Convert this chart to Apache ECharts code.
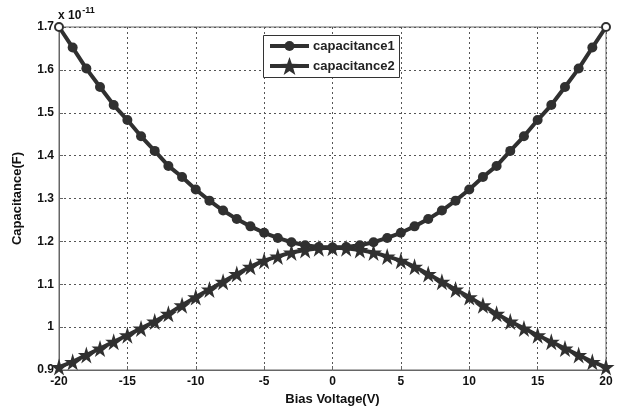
<!DOCTYPE html>
<html>
<head>
<meta charset="utf-8">
<script src="https://cdn.jsdelivr.net/npm/echarts@6/dist/echarts.min.js"></script>
<style>
html,body{margin:0;padding:0;background:#fff;}
#chart{width:619px;height:412px;}
</style>
</head>
<body>
<div id="chart"></div>
<script>
var voltages = [-20,-19,-18,-17,-16,-15,-14,-13,-12,-11,-10,-9,-8,-7,-6,-5,-4,-3,-2,-1,0,1,2,3,4,5,6,7,8,9,10,11,12,13,14,15,16,17,18,19,20];
var capacitance1 = [1.700,1.652,1.603,1.560,1.518,1.483,1.445,1.411,1.376,1.350,1.321,1.295,1.272,1.252,1.235,1.220,1.208,1.198,1.191,1.187,1.186,1.187,1.191,1.198,1.208,1.220,1.235,1.252,1.272,1.295,1.321,1.350,1.376,1.411,1.445,1.483,1.518,1.560,1.603,1.652,1.700];
var capacitance2 = [0.907,0.919,0.935,0.950,0.966,0.981,0.997,1.013,1.031,1.051,1.070,1.088,1.106,1.124,1.141,1.155,1.165,1.174,1.180,1.184,1.185,1.184,1.180,1.174,1.165,1.155,1.141,1.124,1.106,1.088,1.070,1.051,1.031,1.013,0.997,0.981,0.966,0.950,0.935,0.919,0.907];
var seriesNames = ['capacitance1','capacitance2'];
var xTicks = [-20,-15,-10,-5,0,5,10,15,20];
var yTicks = [0.9,1,1.1,1.2,1.3,1.4,1.5,1.6,1.7];

var lineColor = '#303030';
var starPath = 'path://M50,0 L61,35 L98,35 L68,57 L79,91 L50,70 L21,91 L32,57 L2,35 L39,35 Z';

function starPoints(cx, cy, R, r) {
  var pts = [];
  for (var k = 0; k < 10; k++) {
    var a = -Math.PI/2 + k*Math.PI/5;
    var rad = (k % 2 === 0) ? R : r;
    pts.push([cx + rad*Math.cos(a), cy + rad*Math.sin(a)]);
  }
  return pts;
}

var d1 = voltages.map(function(v,i){
  var item = {value:[v, capacitance1[i]]};
  if (i === 0 || i === voltages.length-1) {
    item.symbolSize = 8;
    item.itemStyle = {color:'#fff', borderColor:lineColor, borderWidth:2};
  }
  return item;
});
var d2 = voltages.map(function(v,i){ return [v, capacitance2[i]]; });

var chart = echarts.init(document.getElementById('chart'));
var font = 'Liberation Sans, Arial, sans-serif';

var lgX = 263, lgY = 35, lgW = 136, lgH = 42;
var row1 = 46, row2 = 66;
var legendGraphics = [
  {type:'rect', shape:{x:lgX+0.5, y:lgY+0.5, width:lgW, height:lgH}, style:{fill:'#fff', stroke:'#333', lineWidth:1}, z:100},
  {type:'line', shape:{x1:270, y1:row1, x2:309, y2:row1}, style:{stroke:lineColor, lineWidth:4}, z:101},
  {type:'circle', shape:{cx:289.5, cy:row1, r:5}, style:{fill:lineColor}, z:102},
  {type:'text', x:313, y:row1, style:{text:seriesNames[0], font:'bold 13px ' + font, fill:'#222', textVerticalAlign:'middle', verticalAlign:'middle'}, z:102},
  {type:'line', shape:{x1:270, y1:row2, x2:309, y2:row2}, style:{stroke:lineColor, lineWidth:4}, z:101},
  {type:'polygon', shape:{points:starPoints(289.5, row2+1, 10, 4)}, style:{fill:lineColor}, z:102},
  {type:'text', x:313, y:row2, style:{text:seriesNames[1], font:'bold 13px ' + font, fill:'#222', textVerticalAlign:'middle', verticalAlign:'middle'}, z:102}
];

chart.setOption({
  backgroundColor:'#fff',
  animation:false,
  textStyle:{fontFamily:font},
  grid:{left:59, right:13, top:27, bottom:42, show:true, borderColor:'#666', borderWidth:1, backgroundColor:'transparent'},
  xAxis:{
    type:'value', min:-20, max:20, interval:5,
    name:'Bias Voltage(V)', nameLocation:'middle', nameGap:20,
    nameTextStyle:{fontFamily:font, fontWeight:'bold', fontSize:13, color:'#111'},
    axisLine:{show:true, onZero:false, lineStyle:{color:'#666'}},
    axisTick:{show:true, inside:true, length:4, lineStyle:{color:'#666'}},
    axisLabel:{fontFamily:font, fontWeight:'bold', fontSize:12, color:'#111', margin:6,
      formatter:function(v){ return xTicks.indexOf(v) >= 0 ? String(v) : ''; }},
    splitLine:{show:true, lineStyle:{color:'#555', type:[2,3], width:1}}
  },
  yAxis:{
    type:'value', min:0.9, max:1.7, interval:0.1,
    name:'Capacitance(F)', nameLocation:'middle', nameGap:35, nameRotate:90,
    nameTextStyle:{fontFamily:font, fontWeight:'bold', fontSize:13, color:'#111'},
    axisLine:{show:true, onZero:false, lineStyle:{color:'#666'}},
    axisTick:{show:true, inside:true, length:4, lineStyle:{color:'#666'}},
    axisLabel:{fontFamily:font, fontWeight:'bold', fontSize:12, color:'#111', margin:5,
      formatter:function(v){ var r = Math.round(v*10)/10; return String(r); }},
    splitLine:{show:true, lineStyle:{color:'#555', type:[2,3], width:1}}
  },
  graphic:[{
    type:'text', left:58, top:6,
    style:{
      text:'{a|x 10}{b|-11}',
      rich:{
        a:{fontFamily:font, fontWeight:'bold', fontSize:12, fill:'#111', padding:[6,0,0,0]},
        b:{fontFamily:font, fontWeight:'bold', fontSize:9, fill:'#111', padding:[0,0,4,1]}
      }
    }
  }].concat(legendGraphics),
  series:[
    {
      name:seriesNames[0], type:'line', data:d1,
      symbol:'circle', symbolSize:10, showAllSymbol:true,
      lineStyle:{color:lineColor, width:4},
      itemStyle:{color:lineColor},
      z:3
    },
    {
      name:seriesNames[1], type:'line', data:d2,
      symbol:starPath, symbolSize:17, showAllSymbol:true,
      lineStyle:{color:lineColor, width:4},
      itemStyle:{color:lineColor},
      z:4
    }
  ]
});
</script>
</body>
</html>
